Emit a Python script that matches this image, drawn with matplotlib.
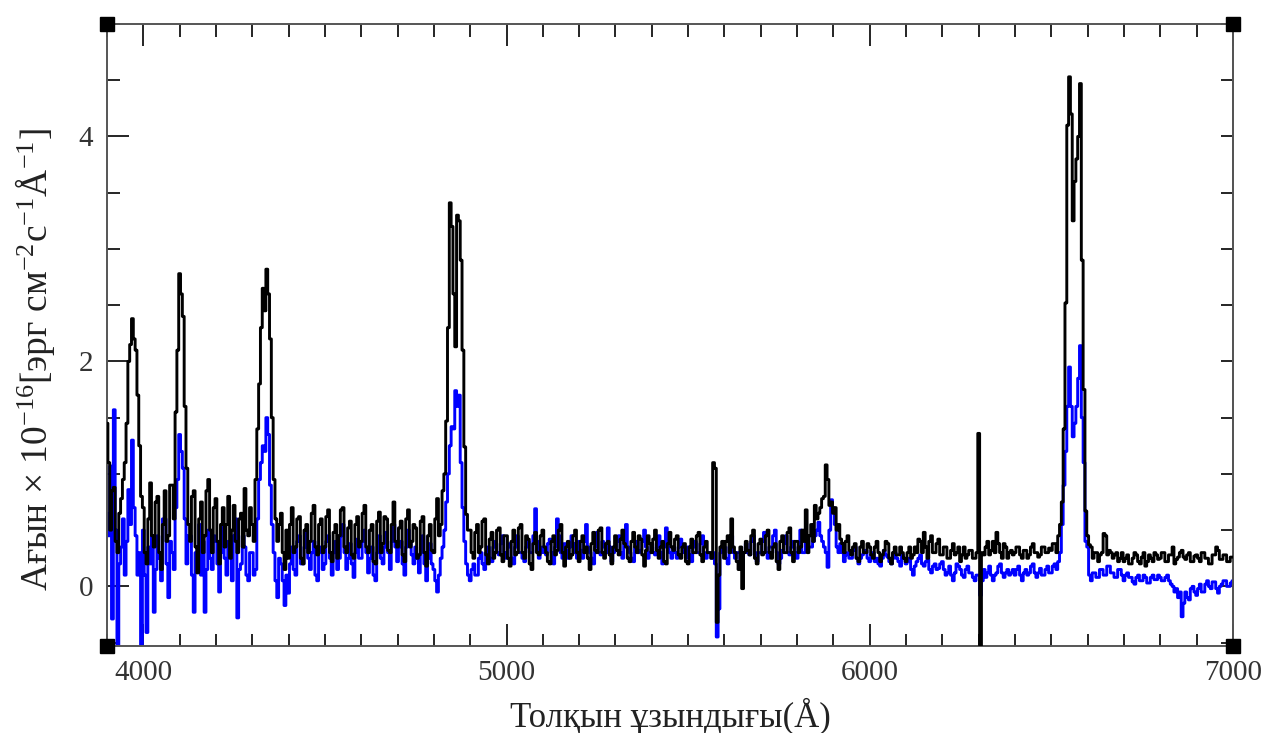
import numpy as np
import matplotlib
matplotlib.use("Agg")
import matplotlib.pyplot as plt
from matplotlib.ticker import MultipleLocator

plt.rcParams['font.family'] = ['Liberation Serif', 'DejaVu Serif']
plt.rcParams['mathtext.fontset'] = 'custom'
plt.rcParams['mathtext.rm'] = 'Liberation Serif'
plt.rcParams['mathtext.it'] = 'Liberation Serif:italic'

# Wavelength grid (Angstrom), 5 A bins
wave_start, wave_stop, wave_step = 3900, 7000, 5

# Flux, units of 1e-16 erg cm^-2 s^-1 A^-1 (two lines = 100 A)
flux_black = [
    1.45, 1.10, 0.50, 0.85, 0.88, 0.40, 0.30, 0.65, 0.78, 0.95,   # 3900
    1.10, 1.45, 2.00, 2.15, 2.38, 2.20, 2.10, 1.70, 1.25, 0.80,
    0.70, 0.30, 0.20, 0.60, 0.92, 0.45, 0.35, 0.75, 0.80, 0.30,   # 4000
    0.15, 0.55, 0.85, 0.40, 0.45, 0.90, 0.90, 0.60, 1.55, 2.10,
    2.78, 2.60, 2.40, 1.60, 1.05, 0.55, 0.40, 0.80, 0.85, 0.35,   # 4100
    0.12, 0.60, 0.75, 0.30, 0.45, 0.85, 0.95, 0.50, 0.30, 0.70,
    0.78, 0.40, 0.20, 0.55, 0.70, 0.35, 0.55, 0.80, 0.25, 0.50,   # 4200
    0.72, 0.40, 0.30, 0.60, 0.65, 0.35, 0.87, 0.50, 0.45, 0.70,
    0.55, 0.40, 0.95, 1.40, 1.80, 2.30, 2.65, 2.45, 2.82, 2.60,   # 4300
    2.20, 1.50, 0.95, 0.60, 0.40, 0.55, 0.65, 0.30, 0.15, 0.50,
    0.25, 0.55, 0.70, 0.30, 0.35, 0.60, 0.62, 0.25, 0.20, 0.50,   # 4400
    0.55, 0.30, 0.40, 0.65, 0.72, 0.35, 0.28, 0.55, 0.60, 0.30,
    0.35, 0.62, 0.68, 0.30, 0.22, 0.48, 0.55, 0.25, 0.45, 0.68,   # 4500
    0.70, 0.35, 0.30, 0.52, 0.58, 0.28, 0.25, 0.55, 0.62, 0.35,
    0.40, 0.65, 0.72, 0.35, 0.30, 0.50, 0.55, 0.22, 0.20, 0.58,   # 4600
    0.66, 0.30, 0.38, 0.62, 0.60, 0.32, 0.30, 0.55, 0.75, 0.40,
    0.35, 0.52, 0.58, 0.28, 0.22, 0.60, 0.68, 0.35, 0.40, 0.55,   # 4700
    0.52, 0.25, 0.28, 0.58, 0.62, 0.30, 0.18, 0.45, 0.55, 0.32,
    0.30, 0.60, 0.78, 0.45, 0.55, 0.85, 1.00, 1.47, 2.30, 3.41,   # 4800
    3.20, 2.60, 2.13, 3.30, 3.25, 2.90, 2.10, 1.24, 0.64, 0.50,
    0.50, 0.30, 0.25, 0.48, 0.55, 0.30, 0.35, 0.58, 0.60, 0.28,   # 4900
    0.20, 0.42, 0.48, 0.25, 0.30, 0.50, 0.52, 0.28, 0.22, 0.45,
    0.45, 0.25, 0.18, 0.40, 0.50, 0.28, 0.30, 0.52, 0.55, 0.30,   # 5000
    0.25, 0.45, 0.42, 0.20, 0.15, 0.38, 0.48, 0.30, 0.28, 0.45,
    0.50, 0.35, 0.30, 0.22, 0.20, 0.40, 0.45, 0.28, 0.32, 0.50,   # 5100
    0.55, 0.30, 0.18, 0.35, 0.40, 0.25, 0.28, 0.45, 0.50, 0.30,
    0.22, 0.40, 0.45, 0.30, 0.35, 0.25, 0.15, 0.38, 0.48, 0.32,   # 5200
    0.30, 0.50, 0.52, 0.30, 0.25, 0.38, 0.40, 0.28, 0.20, 0.35,
    0.45, 0.32, 0.28, 0.42, 0.50, 0.38, 0.35, 0.25, 0.22, 0.40,   # 5300
    0.48, 0.35, 0.30, 0.45, 0.42, 0.28, 0.18, 0.32, 0.45, 0.38,
    0.30, 0.42, 0.50, 0.32, 0.25, 0.35, 0.40, 0.22, 0.20, 0.38,   # 5400
    0.48, 0.35, 0.32, 0.42, 0.45, 0.28, 0.25, 0.35, 0.38, 0.22,
    0.20, 0.35, 0.42, 0.30, 0.30, 0.45, 0.48, 0.28, 0.22, 0.35,   # 5500
    0.40, 0.30, 0.30, 0.25, 1.10, 1.05, -0.32, 0.10, 0.35, 0.40,
    0.25, 0.40, 0.45, 0.30, 0.60, 0.35, 0.30, 0.22, 0.15, 0.35,   # 5600
    -0.02, 0.30, 0.40, 0.32, 0.28, 0.45, 0.50, 0.25, 0.20, 0.38,
    0.42, 0.28, 0.30, 0.45, 0.50, 0.30, 0.25, 0.35, 0.38, 0.22,   # 5700
    0.15, 0.40, 0.45, 0.30, 0.30, 0.48, 0.52, 0.30, 0.22, 0.40,
    0.40, 0.30, 0.35, 0.50, 0.40, 0.68, 0.30, 0.45, 0.55, 0.40,   # 5800
    0.72, 0.60, 0.65, 0.70, 0.78, 0.80, 1.08, 0.95, 0.72, 0.75,
    0.65, 0.70, 0.50, 0.55, 0.42, 0.38, 0.30, 0.40, 0.45, 0.32,   # 5900
    0.28, 0.35, 0.38, 0.25, 0.22, 0.35, 0.40, 0.30, 0.30, 0.38,
    0.35, 0.28, 0.25, 0.35, 0.40, 0.30, 0.22, 0.28, 0.32, 0.40,   # 6000
    0.38, 0.25, 0.20, 0.30, 0.35, 0.28, 0.28, 0.35, 0.30, 0.25,
    0.22, 0.30, 0.35, 0.25, 0.28, 0.35, 0.30, 0.42, 0.40, 0.30,   # 6100
    0.48, 0.35, 0.25, 0.40, 0.45, 0.30, 0.30, 0.38, 0.42, 0.28,
    0.28, 0.35, 0.35, 0.25, 0.25, 0.32, 0.38, 0.28, 0.30, 0.35,   # 6200
    0.22, 0.28, 0.35, 0.25, 0.28, 0.32, 0.32, 0.25, 0.25, 0.30,
    1.36, -0.60, 0.30, 0.28, 0.35, 0.40, 0.28, 0.32, 0.40, 0.30,  # 6300
    0.48, 0.38, 0.30, 0.25, 0.38, 0.35, 0.25, 0.30, 0.32, 0.28,
    0.30, 0.35, 0.35, 0.28, 0.25, 0.32, 0.32, 0.25, 0.28, 0.35,   # 6400
    0.38, 0.30, 0.30, 0.26, 0.28, 0.35, 0.35, 0.30, 0.30, 0.34,
    0.32, 0.38, 0.38, 0.30, 0.45, 0.55, 0.75, 1.40, 2.52, 4.10,   # 6500
    4.53, 4.20, 3.25, 3.60, 3.80, 4.00, 4.47, 2.90, 1.75, 0.67,
    0.45, 0.37, 0.35, 0.25, 0.30, 0.30, 0.22, 0.28, 0.30, 0.47,   # 6600
    0.45, 0.28, 0.32, 0.30, 0.25, 0.28, 0.30, 0.22, 0.25, 0.30,
    0.22, 0.25, 0.28, 0.20, 0.20, 0.25, 0.30, 0.28, 0.22, 0.20,   # 6700
    0.26, 0.30, 0.18, 0.22, 0.28, 0.25, 0.22, 0.30, 0.28, 0.24,
    0.25, 0.30, 0.30, 0.22, 0.22, 0.28, 0.28, 0.35, 0.20, 0.24,   # 6800
    0.26, 0.30, 0.32, 0.26, 0.24, 0.28, 0.30, 0.22, 0.22, 0.27,
    0.28, 0.25, 0.22, 0.30, 0.30, 0.25, 0.25, 0.20, 0.20, 0.28,   # 6900
    0.28, 0.35, 0.32, 0.24, 0.24, 0.28, 0.28, 0.22, 0.22, 0.26,
    0.26,                                                         # 7000
]

flux_blue = [
    0.65, 0.45, 1.07, -0.29, 1.57, 0.50, -0.55, 0.20, 0.35, 0.60,   # 3900
    0.10, 0.40, 0.86, 0.55, 1.30, 0.70, 0.45, 0.10, 0.30, -0.55,
    0.50, 0.10, -0.41, 0.35, 0.20, 0.45, -0.23, 0.15, 0.45, 0.25,   # 4000
    0.05, 0.60, 0.60, 0.20, -0.10, 0.40, 0.30, 0.15, 0.70, 0.95,
    1.35, 1.20, 1.05, 0.60, 0.20, 0.45, 0.45, 0.10, -0.23, 0.30,    # 4100
    0.35, 0.55, 0.10, 0.40, -0.23, 0.15, 0.50, 0.25, 0.15, 0.45,
    0.40, 0.20, -0.05, 0.30, 0.55, 0.25, 0.10, 0.40, 0.30, 0.05,    # 4200
    0.45, 0.60, -0.28, 0.15, 0.20, 0.45, 0.35, 0.10, 0.05, 0.30,
    0.30, 0.10, 0.15, 0.60, 0.95, 1.10, 1.25, 1.20, 1.50, 1.35,     # 4300
    0.90, 0.55, 0.30, 0.05, -0.10, 0.25, 0.20, 0.05, -0.17, 0.10,
    -0.06, 0.20, 0.35, 0.15, 0.10, 0.40, 0.45, 0.20, 0.20, 0.35,    # 4400
    0.50, 0.25, 0.15, 0.30, 0.40, 0.10, 0.05, 0.30, 0.35, 0.15,
    0.20, 0.40, 0.45, 0.25, 0.10, 0.30, 0.40, 0.15, 0.25, 0.45,     # 4500
    0.55, 0.30, 0.15, 0.25, 0.38, 0.20, 0.08, 0.30, 0.42, 0.25,
    0.25, 0.40, 0.50, 0.30, 0.12, 0.25, 0.35, 0.10, 0.05, 0.30,     # 4600
    0.45, 0.25, 0.20, 0.35, 0.48, 0.30, 0.15, 0.40, 0.55, 0.35,
    0.22, 0.35, 0.40, 0.20, 0.10, 0.35, 0.50, 0.40, 0.28, 0.20,     # 4700
    0.35, 0.25, 0.12, 0.30, 0.45, 0.20, 0.05, 0.25, 0.38, 0.20,
    0.15, 0.05, -0.05, 0.10, 0.25, 0.35, 0.50, 0.75, 1.00, 1.25,    # 4800
    1.42, 1.40, 1.74, 1.60, 1.70, 1.10, 0.70, 0.40, 0.20, 0.10,
    0.05, 0.15, 0.20, 0.10, 0.10, 0.25, 0.30, 0.20, 0.15, 0.30,     # 4900
    0.35, 0.25, 0.22, 0.35, 0.40, 0.30, 0.28, 0.38, 0.45, 0.30,
    0.25, 0.35, 0.38, 0.25, 0.20, 0.35, 0.45, 0.30, 0.30, 0.25,     # 5000
    0.22, 0.35, 0.40, 0.30, 0.30, 0.45, 0.69, 0.40, 0.25, 0.30,
    0.35, 0.30, 0.28, 0.38, 0.42, 0.30, 0.20, 0.35, 0.60, 0.45,     # 5100
    0.30, 0.25, 0.38, 0.32, 0.25, 0.35, 0.45, 0.38, 0.30, 0.25,
    0.40, 0.32, 0.25, 0.40, 0.55, 0.35, 0.30, 0.25, 0.20, 0.35,     # 5200
    0.48, 0.30, 0.28, 0.40, 0.35, 0.30, 0.52, 0.35, 0.22, 0.30,
    0.35, 0.40, 0.45, 0.30, 0.25, 0.40, 0.55, 0.35, 0.30, 0.25,     # 5300
    0.22, 0.35, 0.40, 0.30, 0.32, 0.40, 0.50, 0.35, 0.25, 0.30,
    0.38, 0.30, 0.28, 0.35, 0.45, 0.30, 0.20, 0.35, 0.52, 0.38,     # 5400
    0.30, 0.25, 0.35, 0.30, 0.25, 0.35, 0.42, 0.35, 0.30, 0.25,
    0.35, 0.28, 0.22, 0.35, 0.40, 0.30, 0.30, 0.38, 0.45, 0.30,     # 5500
    0.25, 0.30, 0.30, 0.25, 0.30, 0.20, -0.45, -0.20, 0.30, 0.35,
    0.35, 0.25, 0.20, 0.35, 0.45, 0.30, 0.25, 0.30, 0.30, 0.20,     # 5600
    0.15, 0.30, 0.38, 0.30, 0.28, 0.40, 0.45, 0.30, 0.22, 0.30,
    0.30, 0.40, 0.48, 0.30, 0.25, 0.35, 0.35, 0.45, 0.50, 0.30,     # 5700
    0.20, 0.25, 0.32, 0.38, 0.45, 0.30, 0.28, 0.35, 0.40, 0.30,
    0.25, 0.35, 0.50, 0.30, 0.30, 0.40, 0.45, 0.35, 0.35, 0.40,     # 5800
    0.45, 0.50, 0.57, 0.45, 0.40, 0.35, 0.30, 0.17, 0.50, 0.77,
    0.70, 0.55, 0.35, 0.30, 0.38, 0.30, 0.22, 0.28, 0.30, 0.25,     # 5900
    0.25, 0.32, 0.35, 0.25, 0.20, 0.25, 0.28, 0.30, 0.32, 0.25,
    0.22, 0.28, 0.30, 0.22, 0.25, 0.20, 0.18, 0.25, 0.32, 0.28,     # 6000
    0.26, 0.22, 0.20, 0.25, 0.30, 0.25, 0.22, 0.18, 0.28, 0.25,
    0.20, 0.22, 0.25, 0.15, 0.10, 0.18, 0.22, 0.25, 0.28, 0.20,     # 6100
    0.18, 0.22, 0.24, 0.15, 0.12, 0.18, 0.20, 0.15, 0.16, 0.20,
    0.22, 0.15, 0.10, 0.12, 0.18, 0.10, 0.05, 0.12, 0.20, 0.18,     # 6200
    0.15, 0.10, 0.08, 0.15, 0.18, 0.12, 0.12, 0.08, 0.05, 0.10,
    0.10, -0.08, 0.05, 0.15, 0.08, 0.12, 0.18, 0.10, 0.05, 0.10,    # 6300
    0.12, 0.18, 0.20, 0.12, 0.08, 0.12, 0.15, 0.10, 0.12, 0.15,
    0.10, 0.15, 0.18, 0.10, 0.05, 0.12, 0.15, 0.10, 0.12, 0.18,     # 6400
    0.20, 0.12, 0.08, 0.12, 0.16, 0.10, 0.10, 0.15, 0.18, 0.12,
    0.12, 0.18, 0.20, 0.15, 0.22, 0.30, 0.55, 0.90, 1.20, 1.60,     # 6500
    1.95, 1.60, 1.33, 1.45, 1.60, 1.85, 2.14, 1.50, 1.10, 0.40,
    0.35, 0.10, 0.05, 0.12, 0.12, 0.08, 0.08, 0.15, 0.15, 0.10,     # 6600
    0.10, 0.18, 0.18, 0.12, 0.12, 0.08, 0.08, 0.15, 0.15, 0.10,
    0.05, 0.10, 0.12, 0.08, 0.08, 0.04, 0.02, 0.08, 0.10, 0.05,     # 6700
    0.05, 0.10, 0.08, 0.03, 0.03, 0.08, 0.10, 0.06, 0.06, 0.10,
    0.08, 0.05, 0.05, 0.08, 0.10, 0.05, 0.02, 0.00, -0.05, -0.02,   # 6800
    -0.10, -0.05, -0.27, -0.15, -0.05, -0.10, -0.12, -0.02, 0.00, -0.05,
    -0.08, -0.02, 0.02, -0.05, -0.05, 0.02, 0.05, 0.00, -0.02, 0.04,  # 6900
    0.04, -0.02, -0.06, 0.00, 0.02, 0.05, 0.05, 0.00, 0.00, 0.03,
    0.05,                                                             # 7000
]

x_major_ticks = [4000, 5000, 6000, 7000]
x_tick_labels = ["4000", "5000", "6000", "7000"]
y_major_ticks = [0, 2, 4]
y_tick_labels = ["0", "2", "4"]

xlabel = "Толқын ұзындығы(Å)"
ylabel = r"Ағын $\times$ 10$^{-16}$[эрг см$^{-2}$с$^{-1}$Å$^{-1}$]"

wave = np.arange(wave_start, wave_stop + wave_step, wave_step)
assert len(wave) == len(flux_black) == len(flux_blue)

fig = plt.figure(figsize=(12.69, 7.33), dpi=100)
ax = fig.add_axes([0.0843, 0.1187, 0.9716 - 0.0843, 0.9673 - 0.1187])

ax.step(wave, flux_blue, where='mid', color='#0000ff', lw=2.1, zorder=2)
ax.step(wave, flux_black, where='mid', color='black', lw=2.1, zorder=3)

ax.set_xlim(3900, 7000)
ax.set_ylim(-0.53, 5.0)

frame_color = '#555555'
for side in ('left', 'right', 'top', 'bottom'):
    ax.spines[side].set_color(frame_color)
    ax.spines[side].set_linewidth(1.4)

ax.set_xticks(x_major_ticks)
ax.set_xticklabels(x_tick_labels)
ax.set_yticks(y_major_ticks)
ax.set_yticklabels(y_tick_labels)
ax.xaxis.set_minor_locator(MultipleLocator(100))
ax.yaxis.set_minor_locator(MultipleLocator(0.5))

ax.tick_params(which='both', direction='in', top=True, bottom=True,
               left=True, right=False, color='black', width=1.2)
ax.tick_params(which='major', length=16, labelsize=21, labelcolor='#333333',
               pad=10)
ax.tick_params(which='minor', length=9)

# right frame carries only short unlabeled ticks
sec = ax.secondary_yaxis('right')
sec.set_yticks(np.arange(-0.5, 5.01, 0.5))
sec.tick_params(direction='in', length=9, width=1.2, labelright=False)
sec.spines['right'].set_color(frame_color)
sec.spines['right'].set_linewidth(1.4)

ax.set_xlabel(xlabel, fontsize=25, color='#222222', labelpad=9)
ax.set_ylabel(ylabel, fontsize=27, color='#222222')
ax.yaxis.set_label_coords(-0.044, 0.46)

# corner markers on the frame
for cx, cy in [(0, 0), (1, 0), (0, 1), (1, 1)]:
    ax.plot([cx], [cy], marker='s', ms=10.5, color='black',
            transform=ax.transAxes, clip_on=False, zorder=10)

fig.savefig("out.png", dpi=100)
